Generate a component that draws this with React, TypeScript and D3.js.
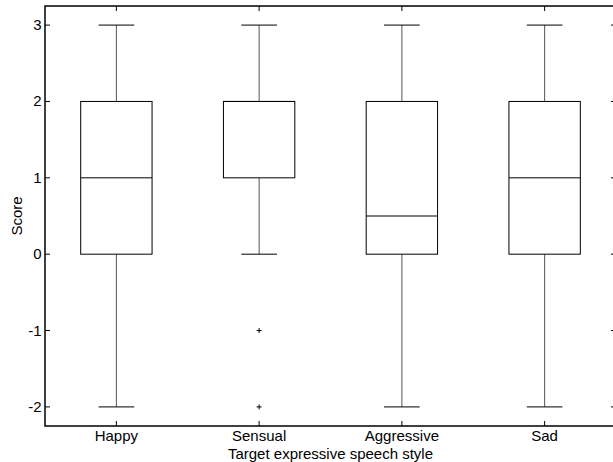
import React, { useEffect, useRef } from 'react';
import * as d3 from 'd3';

const categories = ['Happy', 'Sensual', 'Aggressive', 'Sad'];
const whiskerLow = [-2, 0, -2, -2];
const q1 = [0, 1, 0, 0];
const medians = [1, 2, 0.5, 1];
const q3 = [2, 2, 2, 2];
const whiskerHigh = [3, 3, 3, 3];
const outliers = [[], [-1, -2], [], []];
const yTicks = [-2, -1, 0, 1, 2, 3];

const W = 613;
const H = 462;
const left = 45;
const right = 616;
const top = 6;
const bottom = 426;

const App = () => {
  const ref = useRef(null);

  useEffect(() => {
    const svg = d3.select(ref.current);
    svg.selectAll('*').remove();

    const x = d3.scaleLinear().domain([0.5, 4.5]).range([left, right]);
    const y = d3.scaleLinear().domain([-2.25, 3.25]).range([bottom, top]);
    const font = 'Liberation Sans, Arial, sans-serif';
    const fs = 15;

    // axes frame
    svg.append('rect')
      .attr('x', left).attr('y', top)
      .attr('width', right - left).attr('height', bottom - top)
      .attr('fill', 'none').attr('stroke', '#000').attr('stroke-width', 1.5);

    const tl = 5;
    yTicks.forEach(t => {
      svg.append('line').attr('x1', left).attr('x2', left + tl)
        .attr('y1', y(t)).attr('y2', y(t)).attr('stroke', '#000');
      svg.append('line').attr('x1', right - tl).attr('x2', right)
        .attr('y1', y(t)).attr('y2', y(t)).attr('stroke', '#000');
      svg.append('text').attr('x', left - 3.5).attr('y', y(t) + 5)
        .attr('text-anchor', 'end').attr('font-family', font).attr('font-size', fs)
        .text(t);
    });

    categories.forEach((c, i) => {
      const cx = x(i + 1);
      svg.append('line').attr('x1', cx).attr('x2', cx)
        .attr('y1', bottom).attr('y2', bottom - tl).attr('stroke', '#000');
      svg.append('line').attr('x1', cx).attr('x2', cx)
        .attr('y1', top).attr('y2', top + tl).attr('stroke', '#000');
      svg.append('text').attr('x', cx).attr('y', 441)
        .attr('text-anchor', 'middle').attr('font-family', font).attr('font-size', fs)
        .text(c);

      const bw = x(1.25) - x(1);
      const cw = x(1.125) - x(1);
      const g = svg.append('g');
      // whiskers
      g.append('line').attr('x1', cx).attr('x2', cx)
        .attr('y1', y(whiskerHigh[i])).attr('y2', y(q3[i])).attr('stroke', '#555');
      g.append('line').attr('x1', cx).attr('x2', cx)
        .attr('y1', y(q1[i])).attr('y2', y(whiskerLow[i])).attr('stroke', '#555');
      g.append('line').attr('x1', cx - cw).attr('x2', cx + cw)
        .attr('y1', y(whiskerHigh[i])).attr('y2', y(whiskerHigh[i])).attr('stroke', '#000');
      g.append('line').attr('x1', cx - cw).attr('x2', cx + cw)
        .attr('y1', y(whiskerLow[i])).attr('y2', y(whiskerLow[i])).attr('stroke', '#000');
      // box
      g.append('rect').attr('x', cx - bw).attr('y', y(q3[i]))
        .attr('width', 2 * bw).attr('height', y(q1[i]) - y(q3[i]))
        .attr('fill', 'none').attr('stroke', '#000');
      g.append('line').attr('x1', cx - bw).attr('x2', cx + bw)
        .attr('y1', y(medians[i])).attr('y2', y(medians[i])).attr('stroke', '#000');
      // outliers
      outliers[i].forEach(o => {
        g.append('path')
          .attr('d', `M${cx - 2.5},${y(o)}H${cx + 2.5}M${cx},${y(o) - 2.5}V${y(o) + 2.5}`)
          .attr('stroke', '#000');
      });
    });

    svg.append('text').attr('x', (left + right) / 2).attr('y', 458.5)
      .attr('text-anchor', 'middle').attr('font-family', font).attr('font-size', fs)
      .text('Target expressive speech style');

    svg.append('text')
      .attr('transform', `translate(22,${(top + bottom) / 2}) rotate(-90)`)
      .attr('text-anchor', 'middle').attr('font-family', font).attr('font-size', fs)
      .text('Score');
  }, []);

  return (
    <div style={{ position: 'absolute', left: 0, top: 0, background: '#fff' }}>
      <svg ref={ref} width={W} height={H} style={{ display: 'block' }}></svg>
    </div>
  );
};

export default App;
